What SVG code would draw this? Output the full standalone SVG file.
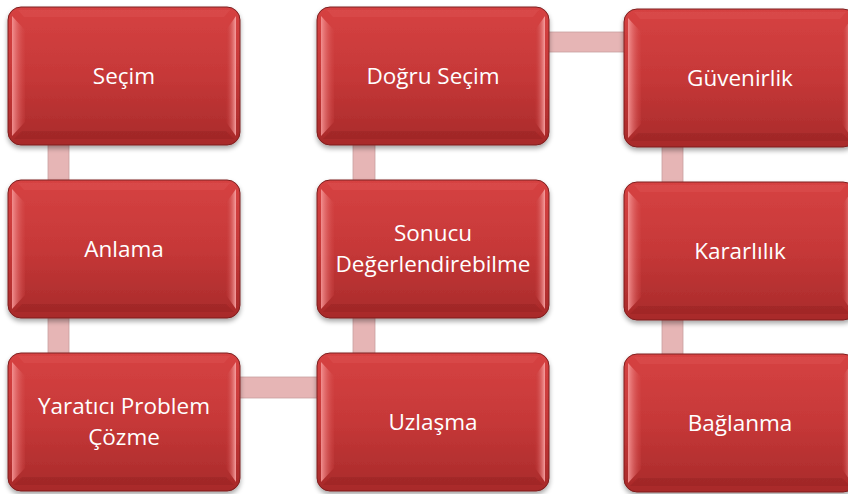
<svg xmlns="http://www.w3.org/2000/svg" xmlns:xlink="http://www.w3.org/1999/xlink" width="848" height="494" viewBox="0 0 848 494">
<style>
.lbl{font-family:"Open Sans","Liberation Sans",sans-serif;font-size:22.5px;fill:#ffffff;text-anchor:middle}
.conn{fill:#e6b5b5;stroke:#c9a0a0;stroke-width:0.8}
</style>
<defs>
<linearGradient id="gBody" x1="0" y1="0" x2="0" y2="1">
<stop offset="0" stop-color="#d64242"/>
<stop offset="0.5" stop-color="#c63838"/>
<stop offset="1" stop-color="#a82a2a"/>
</linearGradient>
<linearGradient id="gLeft" x1="0" y1="0" x2="1" y2="0">
<stop offset="0" stop-color="#f49494" stop-opacity="0.95"/>
<stop offset="1" stop-color="#d44848" stop-opacity="0.2"/>
</linearGradient>
<linearGradient id="gRight" x1="1" y1="0" x2="0" y2="0">
<stop offset="0" stop-color="#f8a4a4" stop-opacity="0.95"/>
<stop offset="1" stop-color="#c63838" stop-opacity="0.1"/>
</linearGradient>
<filter id="sh" x="-10%" y="-10%" width="120%" height="130%">
<feGaussianBlur in="SourceAlpha" stdDeviation="2.5"/>
<feOffset dx="0" dy="3" result="b"/>
<feComponentTransfer><feFuncA type="linear" slope="0.35"/></feComponentTransfer>
<feMerge><feMergeNode/><feMergeNode in="SourceGraphic"/></feMerge>
</filter>
<g id="box">
<rect x="0" y="0" width="232" height="138" rx="13" fill="url(#gBody)" stroke="#7e1e1e" stroke-width="1" filter="url(#sh)"/>
<path d="M4,9 L17,23 L17,115 L4,129 Z" fill="url(#gLeft)"/>
<path d="M228,9 L218,23 L218,115 L228,129 Z" fill="url(#gRight)"/>
<path d="M10,3 L222,3 L216,10 L16,10 Z" fill="#e05a5a" opacity="0.35"/>
<path d="M6,132 L226,132 L218,124 L14,124 Z" fill="#8e2020" opacity="0.35"/>
</g>
</defs>
<rect width="848" height="494" fill="#ffffff"/>
<g id="connectors">
<rect class="conn" x="48" y="143" width="21" height="40"/>
<rect class="conn" x="48" y="316" width="21" height="40"/>
<rect class="conn" x="238" y="377" width="82" height="21"/>
<rect class="conn" x="353" y="316" width="22" height="40"/>
<rect class="conn" x="353" y="143" width="22" height="40"/>
<rect class="conn" x="546" y="32" width="81" height="20"/>
<rect class="conn" x="662" y="143" width="21" height="40"/>
<rect class="conn" x="662" y="316" width="21" height="40"/>
</g>
<g id="n-secim"><use xlink:href="#box" x="8" y="7"/><text class="lbl" x="124" y="84">Seçim</text></g>
<g id="n-anlama"><use xlink:href="#box" x="8" y="180"/><text class="lbl" x="124" y="257">Anlama</text></g>
<g id="n-yaratici"><use xlink:href="#box" x="8" y="353"/><text class="lbl" x="124" y="414">Yaratıcı Problem</text><text class="lbl" x="124" y="445">Çözme</text></g>
<g id="n-dogru"><use xlink:href="#box" x="317" y="7"/><text class="lbl" x="433" y="84">Doğru Seçim</text></g>
<g id="n-sonucu"><use xlink:href="#box" x="317" y="180"/><text class="lbl" x="433" y="241">Sonucu</text><text class="lbl" x="433" y="272">Değerlendirebilme</text></g>
<g id="n-uzlasma"><use xlink:href="#box" x="317" y="353"/><text class="lbl" x="433" y="430">Uzlaşma</text></g>
<g id="n-guven"><use xlink:href="#box" x="624" y="9"/><text class="lbl" x="740" y="86">Güvenirlik</text></g>
<g id="n-karar"><use xlink:href="#box" x="624" y="182"/><text class="lbl" x="740" y="259">Kararlılık</text></g>
<g id="n-baglanma"><use xlink:href="#box" x="624" y="354"/><text class="lbl" x="740" y="431">Bağlanma</text></g>
</svg>
